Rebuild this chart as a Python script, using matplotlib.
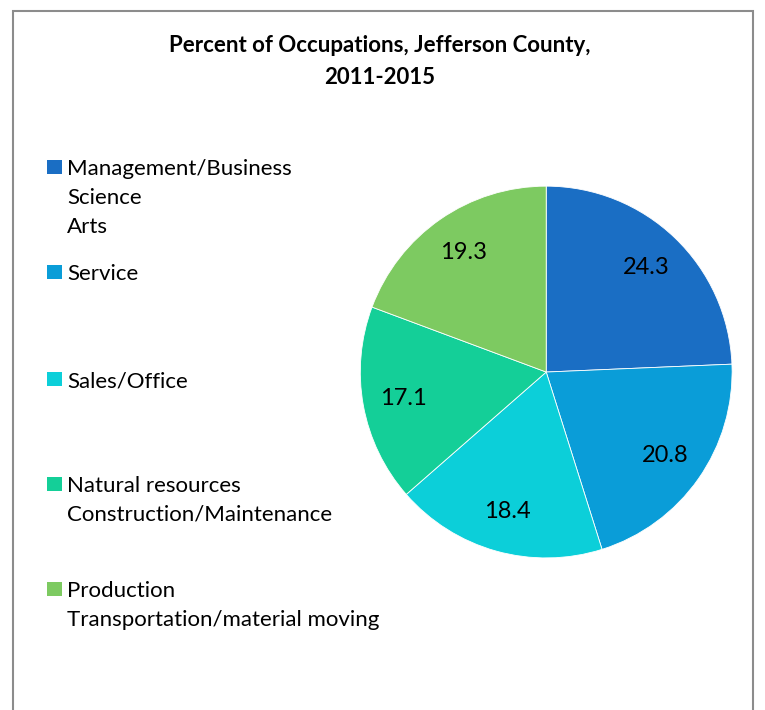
import matplotlib.pyplot as plt
from matplotlib.patches import Rectangle

categories = ["Management/Business\nScience\nArts", "Service", "Sales/Office",
              "Natural resources\nConstruction/Maintenance",
              "Production\nTransportation/material moving"]
values = [24.3, 20.8, 18.4, 17.1, 19.3]
colors = ["#1a6ec4", "#0a9dd8", "#0ccfd9", "#14cf98", "#7dca61"]

plt.rcParams['font.family'] = ['Lato', 'DejaVu Sans']

fig = plt.figure(figsize=(7.65, 7.1), dpi=100)

# frame around chart area
fig.patches.append(Rectangle((13 / 765, -0.05), 740 / 765, 1.05 - 11 / 710,
                             transform=fig.transFigure, fill=False,
                             edgecolor="#8c8c8c", linewidth=1.5))

fig.text(380 / 765, 1 - 45 / 710, "Percent of Occupations, Jefferson County,",
         ha="center", va="center", fontsize=16, fontweight="bold")
fig.text(380 / 765, 1 - 78 / 710, "2011-2015",
         ha="center", va="center", fontsize=16, fontweight="bold")

ax = fig.add_axes([0.471, 0.214, 0.486, 0.524])
wedges, texts = ax.pie(values, colors=colors, startangle=90, counterclock=False,
                       labels=[f"{v:.1f}" for v in values], labeldistance=0.78,
                       wedgeprops=dict(edgecolor="white", linewidth=0.6),
                       textprops=dict(fontsize=17, ha="center", va="center"))
ax.set_xlim(-1, 1)
ax.set_ylim(-1, 1)
ax.set_aspect("equal")

# legend drawn by hand so the marker sits on the first line of multi-line labels
legend_y = [167, 272, 379, 484, 589]
for lab, col, y in zip(categories, colors, legend_y):
    fig.patches.append(Rectangle((47 / 765, 1 - (y + 7) / 710), 15 / 765, 14 / 710,
                                 transform=fig.transFigure, facecolor=col,
                                 edgecolor="none"))
    fig.text(67 / 765, 1 - (y - 8) / 710, lab, ha="left", va="top",
             fontsize=16, linespacing=1.56)

fig.savefig("out.png", dpi=100)
